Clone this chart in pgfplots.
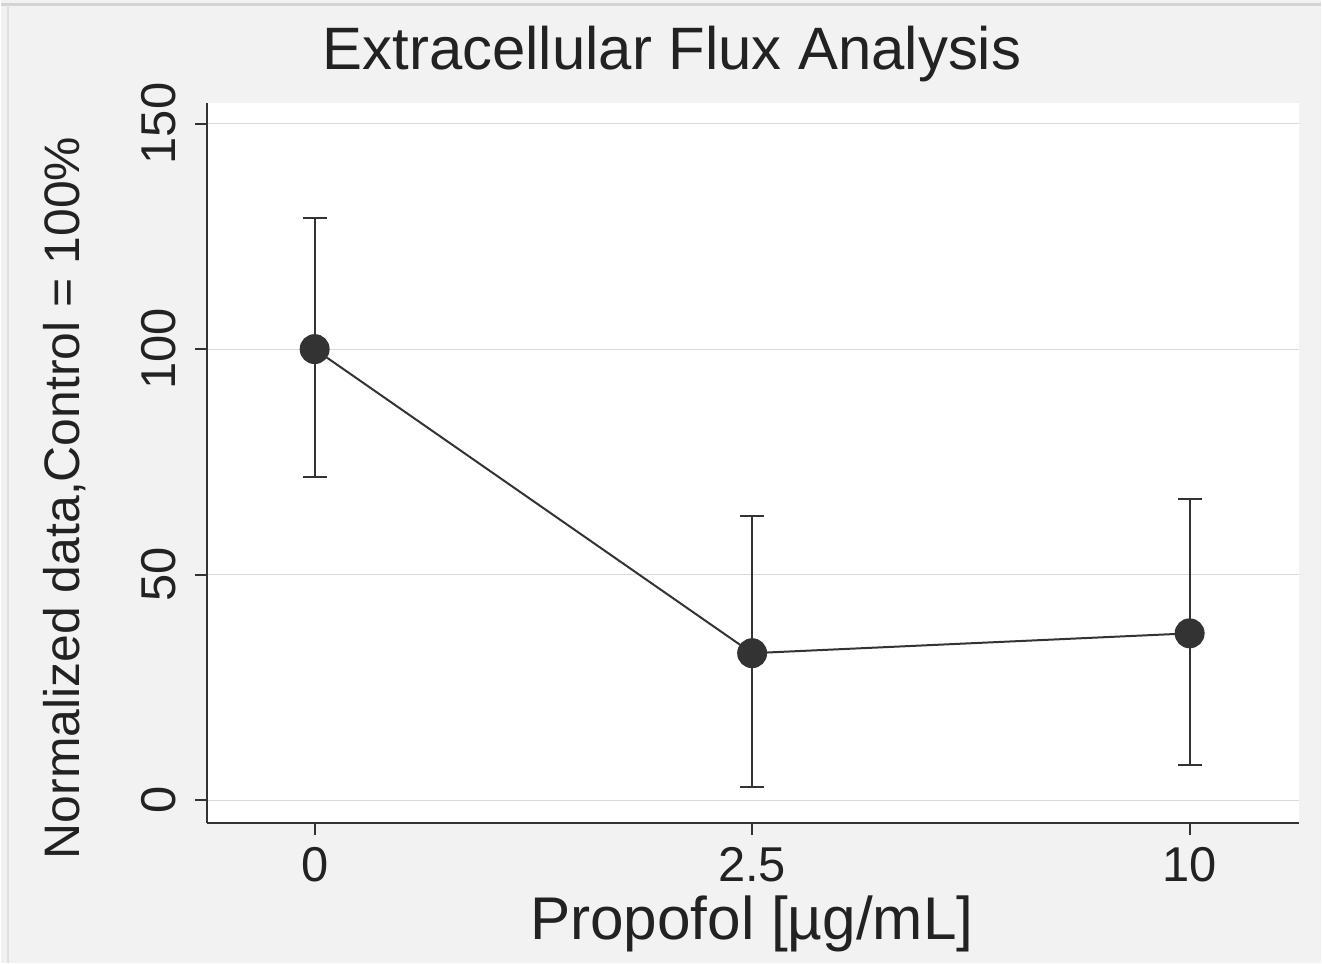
\documentclass[border=0pt]{standalone}
\usepackage{pgfplots}
\pgfplotsset{compat=1.18}
\usepackage{fontspec}
\setmainfont{Liberation Sans}
\definecolor{bg}{HTML}{F2F2F2}
\definecolor{fg}{HTML}{333333}
\definecolor{txt}{HTML}{222222}
\definecolor{gridc}{HTML}{DADADA}
\definecolor{frame}{HTML}{D4D4D4}
\begin{document}
\begin{tikzpicture}
\fill[bg] (0,0) rectangle (661pt,482.5pt);
\draw[frame, line width=1.5pt] (0,480pt) -- (661pt,480pt);
\draw[frame!60!bg, line width=1pt] (3.5pt,0) -- (3.5pt,480pt);
\begin{axis}[
  at={(103pt,70pt)}, anchor=south west,
  scale only axis, width=547pt, height=361pt,
  xmin=-0.246, xmax=2.249, ymin=-5.07, ymax=154.6,
  axis x line*=bottom, axis y line*=left,
  axis line style={fg, line width=1pt, -},
  axis background/.style={fill=white},
  xtick={0,1,2}, xticklabels={0,2.5,10},
  ytick={0,50,100,150},
  ymajorgrids, grid style={gridc, line width=0.6pt},
  tick align=outside, major tick length=6pt,
  tick style={fg, line width=1pt},
  tick label style={font=\fontsize{24.5}{28}\selectfont, text=txt},
  yticklabel style={rotate=90, anchor=south},
  xticklabel style={anchor=north},
  yticklabel shift=6pt,
  xticklabel shift=2.5pt,
  /pgf/number format/assume math mode=true,
  clip=false,
]
\addplot[fg, line width=1pt, mark=*, mark size=7pt,
  mark options={fill=fg, draw=fg, solid},
  error bars/.cd, y dir=both, y explicit,
  error bar style={line width=1pt, fg},
  error mark options={fg, rotate=90, mark size=6pt, line width=1pt}]
coordinates {
  (0,100)   += (0,29.1) -= (0,28.4)
  (1,32.6)  += (0,30.4) -= (0,29.7)
  (2,37.0)  += (0,29.7) -= (0,29.1)
};
\end{axis}
\node[anchor=base, text=txt, font=\fontsize{30}{36}\selectfont] at (336pt,447.5pt) {Extracellular Flux Analysis};
\node[anchor=base, text=txt, font=\fontsize{30.2}{36}\selectfont] at (376pt,11.5pt) {Propofol [µg/mL]};
\node[anchor=base, rotate=90, text=txt, font=\fontsize{25}{30}\selectfont] at (39pt,233pt) {Normalized data,Control = 100\%};
\end{tikzpicture}
\end{document}
